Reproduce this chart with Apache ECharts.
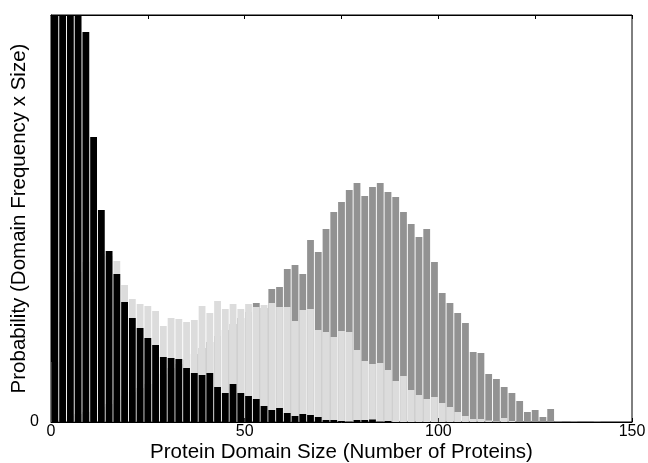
<!DOCTYPE html>
<html>
<head>
<meta charset="utf-8">
<script src="https://cdn.jsdelivr.net/npm/echarts@6/dist/echarts.min.js"></script>
<style>
  html, body { margin: 0; padding: 0; background: #fff; }
  #chart { width: 648px; height: 463px; }
</style>
</head>
<body>
<div id="chart"></div>
<script>
// bin centres (bins of width 2)
var binCenters = [1,3,5,7,9,11,13,15,17,19,21,23,25,27,29,31,33,35,37,39,
  41,43,45,47,49,51,53,55,57,59,61,63,65,67,69,71,73,75,77,79,
  81,83,85,87,89,91,93,95,97,99,101,103,105,107,109,111,113,115,117,119,
  121,123,125,127,129,131,133,135,137,139,141];

// front series (black)
var blackVals = [600,540,480,440,390,285,212,171,148,120,
  104,94,84,77,65,64,63,54,49,47,
  49,35,29,38,29,26,23,16,12,14,
  9,6,8,7,5,2,2,1,0.5,2,
  2,2.5,0.5,1,0,0,0,0,0,0,
  0,0,0,0,0,0,0,0,0,0,
  0,0,0,0,0,0,0,0,0,0,0];

// middle series (light grey)
var lightVals = [60,100,130,150,160,165,168,166,161,137,
  123,118,116,111,96,104,103,100,102,116,
  109,121,113,118,113,118,115,117,119,115,
  115,101,112,113,92,90,85,91,90,72,
  61,58,59,52,41,46,32,27,23,25,
  19,15,10,6,3,3,1.5,0.5,4,1,
  0,0,0,0,0,0,0,0,0,0,0];

// back series (dark grey)
var darkVals = [2,4,6,8,10,12,15,18,22,26,
  30,34,38,42,48,54,58,62,68,74,
  80,86,92,98,104,110,119,114,133,135,
  153,157,148,182,170,193,210,220,232,239,
  226,235,239,230,225,210,198,185,193,160,
  129,119,109,99,70,69,48,43,35,29,
  21,10,12,5,13,1,0,1,0,0,1];

var xTicks = [0, 50, 100, 150];

function pairs(vals) {
  return binCenters.map(function (c, i) { return [c, vals[i]]; });
}

var chart = echarts.init(document.getElementById('chart'), null, {renderer: 'canvas'});
var font = 'Liberation Sans, Arial, Helvetica, sans-serif';
var option = {
  animation: false,
  backgroundColor: '#fff',
  grid: {
    left: 51, right: 16, top: 15, bottom: 41,
    containLabel: false,
    outerBoundsMode: 'none',
    show: true, borderColor: '#000', borderWidth: 1, backgroundColor: 'transparent'
  },
  xAxis: [{
    type: 'value',
    min: 0, max: 150, interval: 25,
    name: 'Protein Domain Size (Number of Proteins)',
    nameLocation: 'middle',
    nameGap: 20,
    nameMoveOverlap: false,
    nameTextStyle: {fontFamily: font, fontSize: 20.5, color: '#000'},
    axisLine: {show: true, lineStyle: {color: '#000', width: 1}},
    axisTick: {show: true, inside: true, length: 4, lineStyle: {color: '#000'}},
    axisLabel: {
      fontFamily: font, fontSize: 16, color: '#000', margin: 2,
      formatter: function (v) { return xTicks.indexOf(v) >= 0 ? String(v) : ''; }
    },
    splitLine: {show: false}
  }, {
    type: 'value',
    position: 'top',
    min: 0, max: 150, interval: 25,
    axisLine: {show: true, lineStyle: {color: '#000', width: 1}},
    axisTick: {show: true, inside: true, length: 4, lineStyle: {color: '#000'}},
    axisLabel: {show: false},
    splitLine: {show: false}
  }],
  yAxis: {
    type: 'value',
    min: 0, max: 407, interval: 407,
    name: 'Probability (Domain Frequency x Size)',
    nameLocation: 'middle',
    nameGap: 21,
    nameMoveOverlap: false,
    nameTextStyle: {fontFamily: font, fontSize: 20.5, color: '#000'},
    axisLine: {show: true, lineStyle: {color: '#000', width: 1}},
    axisTick: {show: false},
    axisLabel: {
      fontFamily: font, fontSize: 16, color: '#000', margin: 12,
      padding: [0, 0, 6, 0],
      formatter: function (v) { return v === 0 ? '0' : ''; }
    },
    splitLine: {show: false}
  },
  series: [{
    type: 'bar',
    data: pairs(darkVals),
    barWidth: 6.8,
    barGap: '-100%',
    itemStyle: {color: '#929292'},
    clip: true
  }, {
    type: 'bar',
    data: pairs(lightVals),
    barWidth: 6.8,
    barGap: '-100%',
    itemStyle: {color: '#dcdcdc'},
    clip: true
  }, {
    type: 'bar',
    data: pairs(blackVals),
    barWidth: 6.8,
    barGap: '-100%',
    itemStyle: {color: '#000'},
    clip: true
  }]
};
chart.setOption(option);
</script>
</body>
</html>
